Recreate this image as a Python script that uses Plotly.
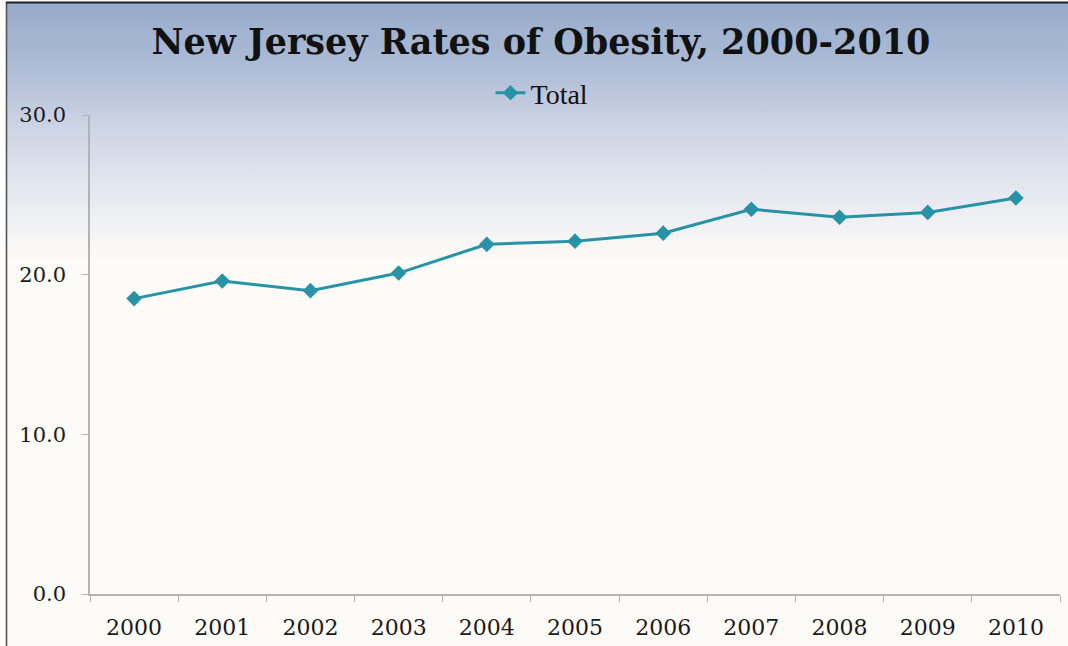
import base64
import plotly.graph_objects as go

# Adult obesity rate in New Jersey (%), by year
years = ["2000", "2001", "2002", "2003", "2004", "2005",
         "2006", "2007", "2008", "2009", "2010"]
total = [18.5, 19.6, 19.0, 20.1, 21.9, 22.1, 22.6, 24.1, 23.6, 23.9, 24.8]

y_ticks = [0, 10, 20, 30]
y_tick_text = ["0.0", "10.0", "20.0", "30.0"]

W, H = 1068, 646
L, R, T, B = 90, 8, 115, 52
plot_w = W - L - R
plot_h = H - T - B

LINE = "#2893a6"
SERIF = "Georgia, 'DejaVu Serif', serif"

# Slide-style backdrop: blue-grey wash fading to off-white, with a dark frame edge
svg = f"""<svg xmlns='http://www.w3.org/2000/svg' width='{W}' height='{H}' viewBox='0 0 {W} {H}' preserveAspectRatio='none'>
<defs><linearGradient id='g' x1='0' y1='0' x2='0' y2='1'>
<stop offset='0' stop-color='#96abca'/>
<stop offset='0.10' stop-color='#adbcd6'/>
<stop offset='0.18' stop-color='#c9d1e2'/>
<stop offset='0.28' stop-color='#e2e6ef'/>
<stop offset='0.35' stop-color='#f3f3f5'/>
<stop offset='0.40' stop-color='#fdfbf8'/>
<stop offset='1' stop-color='#fdfbf8'/>
</linearGradient></defs>
<rect x='0' y='0' width='{W}' height='{H}' fill='#ffffff'/>
<rect x='6' y='2' width='{W}' height='{H}' fill='url(#g)'/>
<line x1='6.5' y1='2' x2='6.5' y2='{H}' stroke='#555555' stroke-width='1.6'/>
<line x1='6' y1='2.5' x2='{W}' y2='2.5' stroke='#222222' stroke-width='2'/>
</svg>"""
bg_src = "data:image/svg+xml;base64," + base64.b64encode(svg.encode()).decode()

fig = go.Figure()
fig.add_trace(go.Scatter(
    x=years, y=total, mode="lines+markers", name="Total",
    line=dict(color=LINE, width=3),
    marker=dict(symbol="diamond", size=12, color=LINE),
))

fig.update_layout(
    width=W, height=H,
    margin=dict(l=L, r=R, t=T, b=B),
    paper_bgcolor="#fdfbf8",
    plot_bgcolor="rgba(0,0,0,0)",
    images=[dict(
        source=bg_src, xref="paper", yref="paper",
        x=-L / plot_w, y=1 + T / plot_h,
        sizex=W / plot_w, sizey=H / plot_h,
        xanchor="left", yanchor="top", sizing="stretch", layer="below",
    )],
    title=dict(
        text="<b>New Jersey Rates of Obesity, 2000-2010</b>",
        x=541 / W, xanchor="center", y=1 - 42 / H, yanchor="middle",
        font=dict(family="'DejaVu Serif', serif", size=35, color="#111111"),
    ),
    showlegend=True,
    legend=dict(
        orientation="h", x=(542 - L) / plot_w, xanchor="center",
        y=1 + (T - 93) / plot_h, yanchor="middle",
        bgcolor="rgba(0,0,0,0)",
        font=dict(family="'Liberation Serif', serif", size=28, color="#111111"),
        itemwidth=30,
    ),
    xaxis=dict(
        type="category", tickson="boundaries", range=[-0.5, len(years) - 0.5],
        automargin=False,
        showgrid=False, zeroline=False,
        showline=True, linecolor="#b3b3b3", linewidth=1.5,
        ticks="outside", ticklen=6, tickcolor="#b3b3b3",
        tickfont=dict(family=SERIF, size=22, color="#1a1a1a"),
        ticklabelstandoff=13,
    ),
    yaxis=dict(
        range=[0, 30], tickvals=y_ticks, ticktext=y_tick_text,
        automargin=False,
        showgrid=False, zeroline=False,
        showline=True, linecolor="#b3b3b3", linewidth=1.5,
        ticks="outside", ticklen=6, tickcolor="#b3b3b3",
        tickfont=dict(family=SERIF, size=21, color="#1a1a1a"),
        ticklabelstandoff=12,
    ),
)

fig.write_html("out.html")
